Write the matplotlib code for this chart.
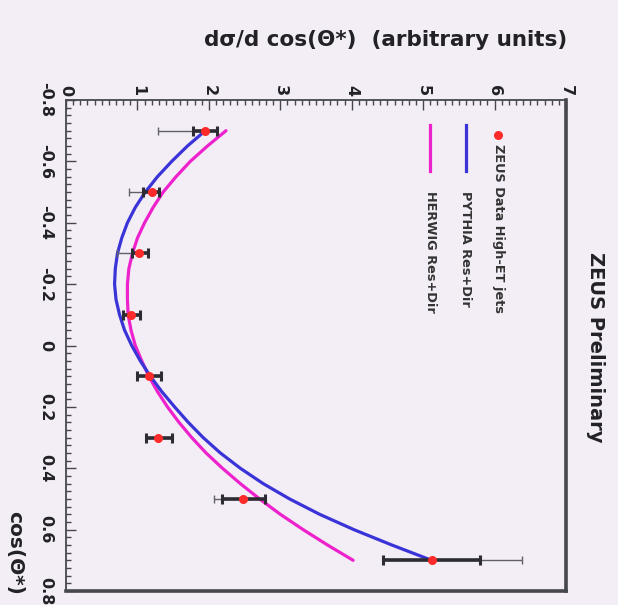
import numpy as np
import matplotlib
matplotlib.use("Agg")
import matplotlib.pyplot as plt
from matplotlib.ticker import MultipleLocator, FixedLocator

# cos(theta*) bin centres and measured cross section
cos_bins = [-0.7, -0.5, -0.3, -0.1, 0.1, 0.3, 0.5, 0.7]
xsec = [1.95, 1.20, 1.02, 0.91, 1.16, 1.29, 2.48, 5.12]
stat_lo = [0.17, 0.12, 0.10, 0.11, 0.16, 0.17, 0.30, 0.68]
stat_hi = [0.16, 0.10, 0.13, 0.13, 0.17, 0.19, 0.31, 0.68]
tot_lo = [0.66, 0.32, 0.31, 0.11, 0.16, 0.17, 0.41, 0.68]
tot_hi = [0.16, 0.10, 0.13, 0.13, 0.17, 0.19, 0.31, 1.27]

# Monte Carlo predictions
mc_cos = [-0.70, -0.65, -0.60, -0.55, -0.50, -0.45, -0.40, -0.35, -0.30,
          -0.25, -0.20, -0.15, -0.10, -0.05, 0.00, 0.05, 0.10, 0.15,
          0.20, 0.25, 0.30, 0.35, 0.40, 0.45, 0.50, 0.55, 0.60, 0.65, 0.70]
pythia = [1.95, 1.70, 1.48, 1.28, 1.11, 0.97, 0.86, 0.78, 0.72,
          0.69, 0.68, 0.70, 0.75, 0.82, 0.92, 1.04, 1.18, 1.34,
          1.52, 1.71, 1.92, 2.16, 2.44, 2.76, 3.13, 3.55, 4.03, 4.56, 5.12]
herwig = [2.24, 1.98, 1.74, 1.54, 1.36, 1.22, 1.10, 1.00, 0.93,
          0.88, 0.86, 0.86, 0.87, 0.91, 0.97, 1.06, 1.16, 1.28,
          1.42, 1.58, 1.76, 1.96, 2.19, 2.44, 2.71, 3.00, 3.32, 3.66, 4.02]

dsig_ticks = [0, 1, 2, 3, 4, 5, 6, 7]
cos_ticks = [-0.8, -0.6, -0.4, -0.2, 0.0, 0.2, 0.4, 0.6, 0.8]
cos_tick_labels = ["-0.8", "-0.6", "-0.4", "-0.2", "0", "0.2", "0.4", "0.6", "0.8"]

bg = "#f3edf6"
frame = "#46464e"
ink = "#222226"
c_data = "#ff2a2a"
c_pythia = "#3a34d8"
c_herwig = "#ee22cc"

W, H = 618, 605
fig = plt.figure(figsize=(W / 100, H / 100), dpi=100, facecolor=bg)
ax = fig.add_axes([66 / W, 1 - 591 / H, 500 / W, 491 / H], facecolor=bg)

# cross section runs along the top, cos(theta*) down the left side
ax.set_xlim(0, 7)
ax.set_ylim(0.8, -0.8)
ax.xaxis.set_ticks_position("top")
ax.yaxis.set_ticks_position("left")
ax.xaxis.set_major_locator(FixedLocator(dsig_ticks))
ax.xaxis.set_minor_locator(MultipleLocator(0.1))
ax.yaxis.set_major_locator(FixedLocator(cos_ticks))
ax.yaxis.set_minor_locator(MultipleLocator(0.025))
ax.tick_params(which="both", direction="in", color=frame, width=1.0,
               labelsize=11.5)
ax.tick_params(which="major", length=7)
ax.tick_params(which="minor", length=3.5)
ax.tick_params(axis="x", pad=3)
ax.tick_params(axis="y", pad=9)
ax.set_xticks(dsig_ticks)
ax.set_xticklabels([str(t) for t in dsig_ticks], rotation=-90,
                   fontweight="bold", color=ink)
ax.set_yticks(cos_ticks)
ax.set_yticklabels(cos_tick_labels, rotation=-90, va="center",
                   fontweight="bold", color=ink)

for side in ("top", "left"):
    ax.spines[side].set_color(frame)
    ax.spines[side].set_linewidth(1.3)
for side in ("bottom", "right"):
    ax.spines[side].set_color(frame)
    ax.spines[side].set_linewidth(2.6)

# model curves
ax.plot(herwig, mc_cos, color=c_herwig, lw=2.3, zorder=3,
        solid_capstyle="round", solid_joinstyle="round")
ax.plot(pythia, mc_cos, color=c_pythia, lw=2.3, zorder=3,
        solid_capstyle="round", solid_joinstyle="round")

# total (thin) and statistical (thick) uncertainties
ax.errorbar(xsec, cos_bins, xerr=[tot_lo, tot_hi], fmt="none",
            ecolor="#606068", elinewidth=1.0, capsize=3, capthick=1.0,
            zorder=4)
ax.errorbar(xsec, cos_bins, xerr=[stat_lo, stat_hi], fmt="none",
            ecolor="#2c2c32", elinewidth=2.6, capsize=3.5, capthick=2.2,
            zorder=5)
ax.plot(xsec, cos_bins, "o", color=c_data, ms=6.5, mec="none", zorder=6)

# legend, written along the rotated direction of the plot
leg_fs = 9.3
ax.plot([6.05], [-0.685], "o", color=c_data, ms=6.5, mec="none")
ax.text(6.05, -0.655, "ZEUS Data High-ET jets", rotation=-90,
        ha="center", va="top", fontsize=leg_fs, fontweight="bold", color="#333")
ax.plot([5.6, 5.6], [-0.72, -0.57], color=c_pythia, lw=2.3)
ax.text(5.6, -0.505, "PYTHIA Res+Dir", rotation=-90,
        ha="center", va="top", fontsize=leg_fs, fontweight="bold", color="#333")
ax.plot([5.1, 5.1], [-0.72, -0.57], color=c_herwig, lw=2.3)
ax.text(5.1, -0.505, "HERWIG Res+Dir", rotation=-90,
        ha="center", va="top", fontsize=leg_fs, fontweight="bold", color="#333")

fig.text(595 / W, 1 - 347 / H, "ZEUS Preliminary", rotation=-90,
         ha="center", va="center", fontsize=14, fontweight="bold", color=ink)
fig.text(567 / W, 1 - 40 / H, "dσ/d cos(Θ*)  (arbitrary units)",
         ha="right", va="center", fontsize=15.5, fontweight="bold", color=ink)
fig.text(15 / W, 1 - 595 / H, "cos(Θ*)", rotation=-90,
         ha="center", va="bottom", fontsize=14.5, fontweight="bold", color=ink)

fig.savefig("out.png", dpi=100, facecolor=bg)
